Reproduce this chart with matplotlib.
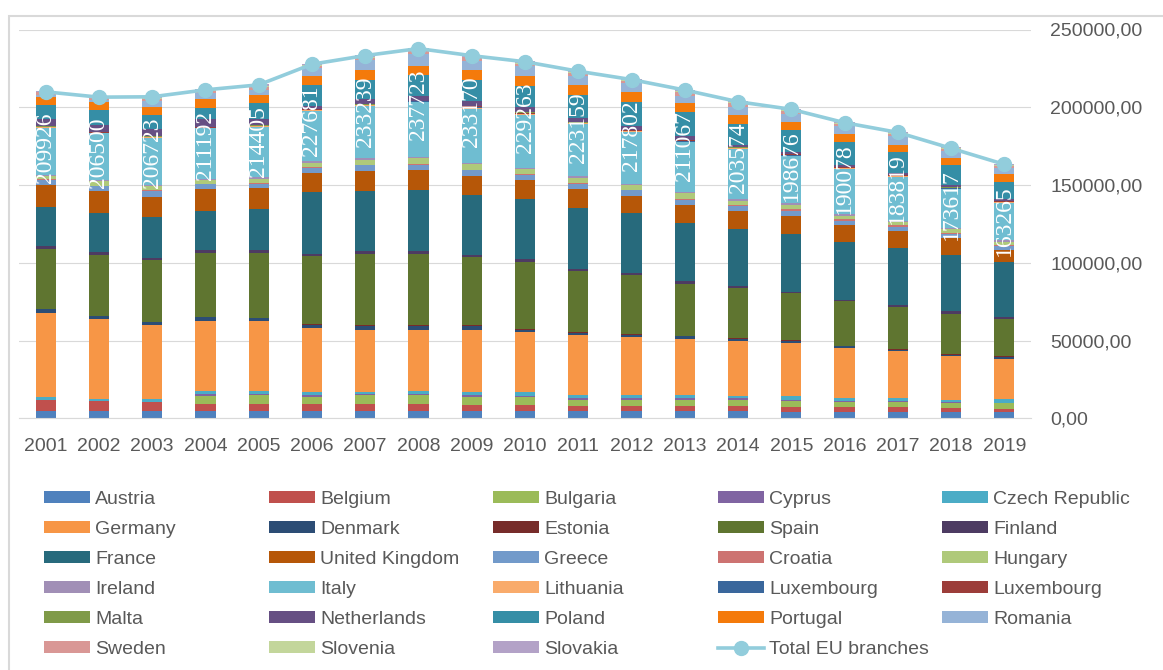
import matplotlib
matplotlib.use('Agg')
import matplotlib.pyplot as plt
from matplotlib.patches import Rectangle
from matplotlib.ticker import FuncFormatter
import numpy as np

plt.rcParams['font.family'] = ['Liberation Sans', 'DejaVu Sans']

years = [2001, 2002, 2003, 2004, 2005, 2006, 2007, 2008, 2009, 2010,
         2011, 2012, 2013, 2014, 2015, 2016, 2017, 2018, 2019]

# branches per country
austria = [4730, 4730, 4730, 4730, 4730, 4730, 4730, 4730, 4730, 4730,
           4730, 4730, 4730, 4730, 3870, 3870, 3870, 3870, 3870]
belgium = [7095, 6235, 5590, 4515, 4515, 4515, 4515, 4515, 3655, 3655,
           3440, 3440, 3440, 3440, 3655, 3655, 3225, 3010, 2150]
bulgaria = [0, 0, 0, 5375, 5805, 4730, 5590, 5590, 5590, 5590,
            3655, 3655, 3655, 3655, 3655, 3225, 3225, 2795, 3655]
cyprus = [215, 215, 215, 860, 645, 1290, 860, 860, 1290, 645,
          1290, 1505, 1075, 1075, 860, 645, 645, 860, 430]
czech = [1505, 1290, 1935, 2150, 2150, 1505, 1505, 2150, 1720, 2580,
         1720, 1505, 2150, 1720, 2365, 1505, 1935, 1290, 2150]
germany = [54395, 51170, 47300, 45150, 44505, 41065, 39775, 39130, 39990, 38055,
           38485, 37195, 36120, 35045, 33970, 32250, 30100, 27950, 26015]
denmark = [2150, 2150, 2150, 2150, 1935, 2150, 2150, 2150, 2150, 1720,
           1505, 1720, 1505, 1505, 1290, 1075, 1075, 1075, 1075]
estonia = [215, 215, 215, 215, 430, 430, 860, 860, 645, 430,
           430, 430, 430, 430, 430, 430, 430, 430, 860]
spain = [38700, 39130, 39775, 41280, 41710, 43645, 45795, 45795, 43860, 43000,
         39345, 37840, 33540, 32250, 30530, 28595, 26875, 26015, 23650]
finland = [1505, 1935, 1290, 1505, 1505, 1720, 1505, 1935, 1505, 1720,
           1505, 1505, 1505, 1075, 860, 1075, 1290, 1505, 1075]
france = [25370, 25155, 26015, 25585, 26445, 39775, 38915, 39345, 38485, 39130,
          39345, 38270, 37625, 36980, 37195, 36980, 36550, 36120, 35690]
uk = [13975, 13760, 13330, 14190, 13545, 12470, 12685, 12470, 12255, 11825,
      11825, 11180, 11180, 11180, 11395, 10965, 11180, 11180, 7310]
greece = [3655, 3225, 3870, 2795, 3010, 3225, 3870, 3655, 3655, 3655,
          3655, 3655, 3225, 3440, 3225, 2580, 2795, 2150, 2795]
croatia = [215, 215, 215, 215, 215, 430, 430, 430, 430, 430,
           430, 430, 1075, 860, 1075, 1075, 860, 1075, 860]
hungary = [2365, 3010, 2580, 2580, 3010, 2795, 3010, 3440, 3440, 3010,
           3440, 3010, 3440, 2580, 2795, 2150, 2150, 2150, 1935]
ireland = [645, 860, 645, 430, 860, 860, 1075, 860, 1075, 1075,
           1075, 860, 1075, 860, 1075, 1075, 860, 1075, 860]
italy = [30100, 29885, 30530, 32680, 32465, 32465, 33755, 35260, 34400, 33755,
         33325, 33325, 31605, 32250, 30100, 29455, 28380, 24725, 24295]
lithuania = [215, 215, 215, 215, 215, 430, 215, 430, 645, 430,
             430, 430, 430, 430, 430, 430, 430, 430, 430]
luxembourg_a = [215, 215, 215, 215, 215, 215, 215, 215, 645, 430,
                215, 215, 430, 215, 430, 215, 215, 215, 215]
luxembourg_b = [215, 215, 215, 215, 215, 215, 215, 215, 430, 430,
                215, 430, 430, 215, 430, 430, 430, 430, 215]
malta = [215, 215, 215, 215, 215, 215, 215, 215, 430, 430,
         215, 215, 215, 215, 215, 215, 215, 215, 215]
netherlands = [4945, 4300, 4945, 5160, 4085, 2150, 3440, 3225, 3225, 3225,
               2795, 2150, 2365, 1505, 1075, 860, 1075, 1290, 1505]
poland = [9030, 9675, 8600, 7095, 10105, 13330, 12470, 13545, 13545, 13975,
          14835, 15910, 15480, 13545, 14620, 14620, 13545, 12900, 10965]
portugal = [5160, 5375, 5375, 5805, 5375, 5590, 6235, 5805, 6235, 6450,
            6450, 6020, 6020, 5805, 5160, 5375, 4515, 4515, 4730]
romania = [1290, 1290, 3870, 3655, 3440, 5160, 6450, 7525, 6020, 6020,
           6020, 5805, 4730, 5375, 4945, 4945, 5375, 4730, 4300]
sweden = [1505, 1075, 1505, 1505, 1720, 1720, 1290, 2150, 2150, 1720,
          1720, 1505, 2150, 2150, 2150, 1505, 1505, 1075, 1075]
slovenia = [215, 215, 430, 430, 645, 430, 860, 645, 430, 430,
            430, 430, 645, 645, 430, 430, 430, 430, 430]
slovakia = [430, 430, 860, 645, 1075, 645, 1075, 1075, 1075, 1075,
            1075, 645, 1075, 860, 860, 645, 1075, 645, 645]

total_eu = [209926, 206500, 206723, 211192, 214405, 227681, 233239, 237723, 233170, 229263,
            223159, 217802, 211067, 203574, 198676, 190078, 183819, 173617, 163265]

names = ['Austria', 'Belgium', 'Bulgaria', 'Cyprus', 'Czech Republic',
         'Germany', 'Denmark', 'Estonia', 'Spain', 'Finland',
         'France', 'United Kingdom', 'Greece', 'Croatia', 'Hungary',
         'Ireland', 'Italy', 'Lithuania', 'Luxembourg', 'Luxembourg',
         'Malta', 'Netherlands', 'Poland', 'Portugal', 'Romania',
         'Sweden', 'Slovenia', 'Slovakia']
series = [austria, belgium, bulgaria, cyprus, czech,
          germany, denmark, estonia, spain, finland,
          france, uk, greece, croatia, hungary,
          ireland, italy, lithuania, luxembourg_a, luxembourg_b,
          malta, netherlands, poland, portugal, romania,
          sweden, slovenia, slovakia]
colors = ['#4F81BD', '#C0504D', '#9BBB59', '#8064A2', '#4BACC6',
          '#F79646', '#2C4D75', '#772C2A', '#5F7530', '#4D3B62',
          '#276A7C', '#B65708', '#729ACA', '#CD7371', '#AFC97A',
          '#A18FB6', '#6FBDD1', '#F9AB6B', '#3A679C', '#9C3D3A',
          '#7F9A48', '#664F83', '#358EA6', '#F47A0B', '#95B3D7',
          '#D99795', '#C3D69B', '#B3A2C7']
line_color = '#92CDDC'
grey = '#595959'

fig = plt.figure(figsize=(11.63, 6.7), dpi=100)
ax = fig.add_axes([19 / 1163, 1 - 418.3 / 670, 1012 / 1163, 388.8 / 670])

x = np.arange(len(years))
bottom = np.zeros(len(years))
handles = []
for name, vals, col in zip(names, series, colors):
    bars = ax.bar(x, vals, 0.38, bottom=bottom, color=col, zorder=2)
    bottom += np.array(vals)
    handles.append(bars)

line, = ax.plot(x, total_eu, color=line_color, lw=2.6, marker='o', ms=10, zorder=4)
handles.append(line)
labels = names + ['Total EU branches']

for xi, t in zip(x, total_eu):
    ax.annotate(str(t), (xi, t), xytext=(0, -15), textcoords='offset points',
                rotation=90, ha='center', va='top', color='white',
                fontsize=17, family='Liberation Serif', zorder=5)

ax.set_xlim(-0.5, len(years) - 0.5)
ax.set_ylim(0, 250000)
ax.set_yticks(np.arange(0, 250001, 50000))
ax.yaxis.tick_right()
ax.yaxis.set_major_formatter(FuncFormatter(lambda v, p: f'{v:.2f}'.replace('.', ',')))
ax.set_xticks(x)
ax.set_xticklabels([str(y) for y in years])
ax.tick_params(axis='y', length=0, pad=14, labelsize=14, labelcolor=grey)
ax.tick_params(axis='x', length=0, pad=14, labelsize=14, labelcolor=grey)
ax.grid(axis='y', color='#D9D9D9', lw=0.8)
ax.set_axisbelow(True)
for s in ['top', 'left', 'right']:
    ax.spines[s].set_visible(False)
ax.spines['bottom'].set_color('#D9D9D9')

# legend: five columns filled row by row
col_x = [44, 269, 493, 718, 942]
for c, cx in enumerate(col_x):
    idx = [r * 5 + c for r in range(6) if r * 5 + c < len(handles)]
    fig.legend([handles[i] for i in idx], [labels[i] for i in idx],
               loc='upper left', bbox_to_anchor=(cx / 1163, 1 - 491 / 670),
               frameon=False, borderpad=0, borderaxespad=0,
               handlelength=2.37, handleheight=0.57, handletextpad=0.26,
               labelspacing=0.67, fontsize=14, labelcolor=grey)

fig.patches.append(Rectangle((9 / 1163, -0.05), 1.2, 1 - 15.5 / 670 + 0.05,
                             transform=fig.transFigure, fill=False,
                             ec='#D9D9D9', lw=1.5))

fig.savefig('out.png', dpi=100)
